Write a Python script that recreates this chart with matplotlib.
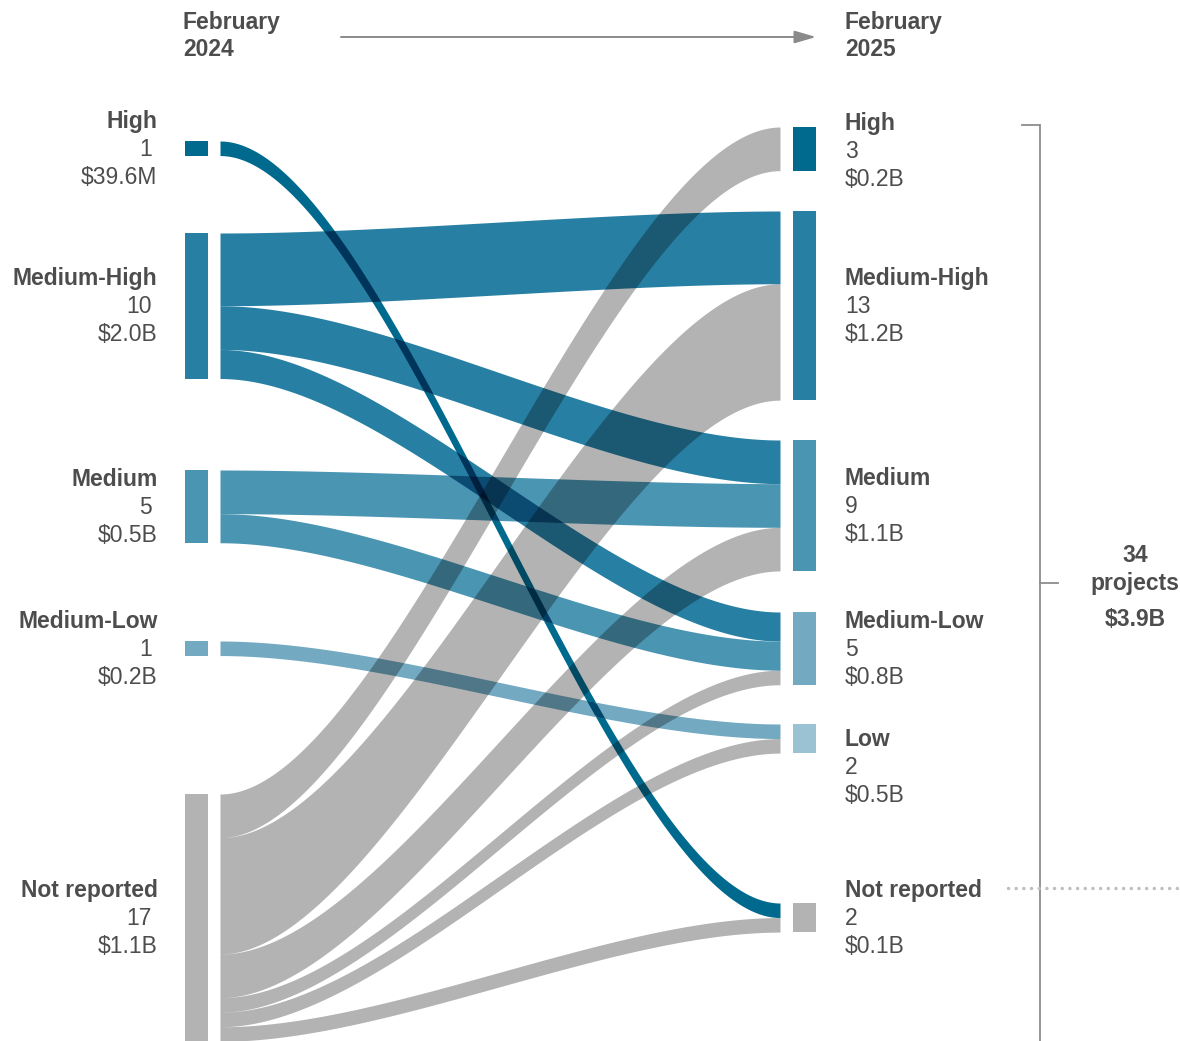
import itertools
import numpy as np
import matplotlib
matplotlib.use("Agg")
import matplotlib.pyplot as plt
from matplotlib.patches import Rectangle
from matplotlib.colors import to_rgb

plt.rcParams['font.family'] = ['Liberation Sans', 'DejaVu Sans']

# ---- data -------------------------------------------------------------
period_from = "February\n2024"
period_to = "February\n2025"

left_names = ["High", "Medium-High", "Medium", "Medium-Low", "Not reported"]
left_counts = [1, 10, 5, 1, 17]
left_values = ["$39.6M", "$2.0B", "$0.5B", "$0.2B", "$1.1B"]

right_names = ["High", "Medium-High", "Medium", "Medium-Low", "Low", "Not reported"]
right_counts = [3, 13, 9, 5, 2, 2]
right_values = ["$0.2B", "$1.2B", "$1.1B", "$0.8B", "$0.5B", "$0.1B"]

flow_source = ["High", "Medium-High", "Medium-High", "Medium-High", "Medium", "Medium",
               "Medium-Low", "Not reported", "Not reported", "Not reported",
               "Not reported", "Not reported", "Not reported"]
flow_target = ["Not reported", "Medium-High", "Medium", "Medium-Low", "Medium", "Medium-Low",
               "Low", "High", "Medium-High", "Medium", "Medium-Low", "Low", "Not reported"]
flow_counts = [1, 5, 3, 2, 3, 2, 1, 3, 8, 3, 1, 1, 1]

total_projects = 34
total_value = "$3.9B"

# ---- style / layout ---------------------------------------------------
colors = {
    "High": "#006A8E",
    "Medium-High": "#2780A3",
    "Medium": "#4A95B2",
    "Medium-Low": "#73AAC2",
    "Low": "#9AC2D2",
    "Not reported": "#B3B3B3",
}
TXT = "#4D4D4D"
FS = 16.5
UNIT = 14.55                      # pixels per project
left_tops = [141, 233, 470, 641, 794]
right_tops = [127, 211, 440, 612, 724, 903]
right_label_shift = [2, 0, 0, 0, 28, 0]
LX, RX, NODE_W = 185, 793, 23
FX0, FX1 = 220, 780
W, H = 1180, 1041

fig = plt.figure(figsize=(W / 100, H / 100), dpi=100)
ax = fig.add_axes([0, 0, 1, 1])
ax.set_xlim(0, W)
ax.set_ylim(H, 0)
ax.axis("off")

# ---- nodes ------------------------------------------------------------
for name, cnt, top in zip(left_names, left_counts, left_tops):
    ax.add_patch(Rectangle((LX, top), NODE_W, cnt * UNIT, fc=colors[name], ec="none", zorder=3))
for name, cnt, top in zip(right_names, right_counts, right_tops):
    ax.add_patch(Rectangle((RX, top), NODE_W, cnt * UNIT, fc=colors[name], ec="none", zorder=3))

# ---- flow geometry ----------------------------------------------------
t = np.linspace(0, 1, 240)
k = 0.3
xc = [FX0, FX0 + k * (FX1 - FX0), FX1 - k * (FX1 - FX0), FX1]
bx = (1 - t) ** 3 * xc[0] + 3 * (1 - t) ** 2 * t * xc[1] + 3 * (1 - t) * t ** 2 * xc[2] + t ** 3 * xc[3]
bw = 3 * (1 - t) * t ** 2 + t ** 3

n_flows = len(flow_counts)
li = [left_names.index(s) for s in flow_source]
ri = [right_names.index(s) for s in flow_target]

src_y = {}
cursor = {i: left_tops[i] for i in range(len(left_names))}
for f in sorted(range(n_flows), key=lambda f: (li[f], ri[f])):
    src_y[f] = cursor[li[f]]
    cursor[li[f]] += flow_counts[f] * UNIT
dst_y = {}
cursor = {i: right_tops[i] for i in range(len(right_names))}
for f in sorted(range(n_flows), key=lambda f: (ri[f], li[f])):
    dst_y[f] = cursor[ri[f]]
    cursor[ri[f]] += flow_counts[f] * UNIT

tops, bots = {}, {}
for f in range(n_flows):
    tops[f] = src_y[f] + (dst_y[f] - src_y[f]) * bw
    bots[f] = tops[f] + flow_counts[f] * UNIT

# coloured flows: opaque, with overlaps shaded by the product of their colours
blue = [f for f in range(n_flows) if flow_source[f] != "Not reported"]
for f in blue:
    ax.fill_between(bx, tops[f], bots[f], color=colors[flow_source[f]], lw=0, zorder=2)
for size in range(2, 4):
    for combo in itertools.combinations(blue, size):
        lo = np.max([tops[f] for f in combo], axis=0)
        hi = np.min([bots[f] for f in combo], axis=0)
        mask = (hi - lo) > 0.3
        if not mask.any():
            continue
        col = np.prod([to_rgb(colors[flow_source[f]]) for f in combo], axis=0)
        ax.fill_between(bx, lo, hi, where=mask, interpolate=True, color=col, lw=0, zorder=2 + 0.1 * size)

# unreported flows multiply-darken whatever lies beneath them
gray_alpha = 1 - to_rgb(colors["Not reported"])[0]
for f in range(n_flows):
    if flow_source[f] == "Not reported":
        ax.fill_between(bx, tops[f], bots[f], color="black", alpha=gray_alpha, lw=0, zorder=2.5)

# ---- labels -----------------------------------------------------------
for name, cnt, val, top in zip(left_names, left_counts, left_values, left_tops):
    base = top + cnt * UNIT / 2 + 7.5
    ax.text(157.5, base - 28, name, ha="right", va="baseline", fontsize=FS, fontweight="bold", color=TXT)
    ax.text(152, base, str(cnt), ha="right", va="baseline", fontsize=FS, color=TXT)
    ax.text(157.5, base + 28, val, ha="right", va="baseline", fontsize=FS, color=TXT)

for name, cnt, val, top, sh in zip(right_names, right_counts, right_values, right_tops, right_label_shift):
    base = top + cnt * UNIT / 2 + 7.5 + sh
    ax.text(845, base - 28, name, ha="left", va="baseline", fontsize=FS, fontweight="bold", color=TXT)
    ax.text(845, base, str(cnt), ha="left", va="baseline", fontsize=FS, color=TXT)
    ax.text(845, base + 28, val, ha="left", va="baseline", fontsize=FS, color=TXT)

# period headers and arrow
for x, label in [(183, period_from), (845, period_to)]:
    l1, l2 = label.split("\n")
    ax.text(x, 29, l1, ha="left", va="baseline", fontsize=FS, fontweight="bold", color=TXT)
    ax.text(x, 56, l2, ha="left", va="baseline", fontsize=FS, fontweight="bold", color=TXT)
ax.annotate("", xy=(816, 37), xytext=(341, 37),
            arrowprops=dict(arrowstyle="-|>,head_length=1.3,head_width=0.38", color="#8A8A8A",
                            lw=1.4, shrinkA=0, shrinkB=0, mutation_scale=10))

# total bracket
bc = "#8C8C8C"
ax.plot([1022, 1040, 1040], [125, 125, H + 5], color=bc, lw=1.3, solid_joinstyle="miter", zorder=3)
ax.plot([1040, 1058], [583, 583], color=bc, lw=1.3, zorder=3)
ax.text(1135, 562, str(total_projects), ha="center", va="baseline", fontsize=FS, fontweight="bold", color=TXT)
ax.text(1135, 590, "projects", ha="center", va="baseline", fontsize=FS, fontweight="bold", color=TXT)
ax.text(1135, 626, total_value, ha="center", va="baseline", fontsize=FS, fontweight="bold", color=TXT)

# dotted guide beside the unreported group
ax.plot([1008, 1180], [888, 888], color="#BEBEBE", lw=2.5, linestyle=(0, (0.01, 2.2)),
        dash_capstyle="round", zorder=4)

fig.savefig("out.png", dpi=100)
